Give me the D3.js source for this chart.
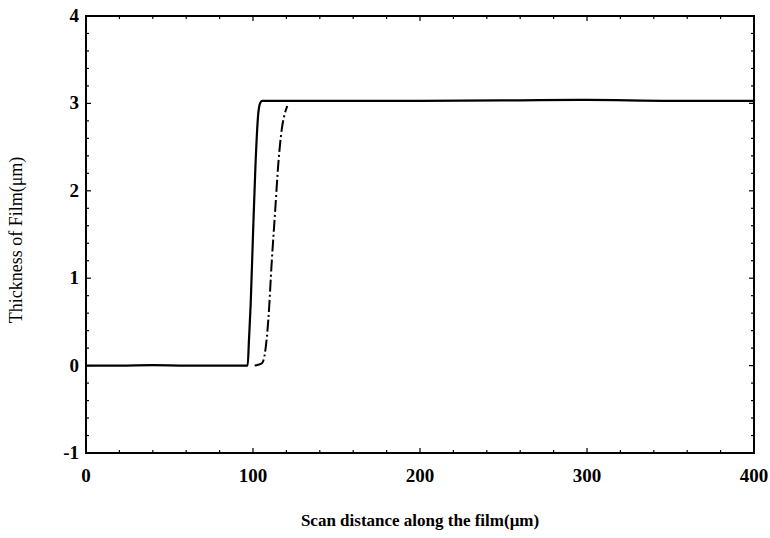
<!DOCTYPE html>
<html><head><meta charset="utf-8">
<script src="https://cdn.jsdelivr.net/npm/d3@7"></script>
<style>body{margin:0;background:#fff}</style>
</head><body>
<svg id="c" width="770" height="538"></svg>
<script>
// Data
const solidX = [0, 20, 40, 60, 80, 96.8, 97.6, 98.6, 100.0, 101.5, 103.0, 104.2, 105.5, 130, 200, 260, 300, 350, 400];
const solidY = [0, 0, 0.005, 0, 0, 0, 0.3, 0.7, 1.5, 2.3, 2.85, 3.0, 3.03, 3.03, 3.03, 3.035, 3.04, 3.03, 3.03];
const dashX = [101, 103, 105.5, 107.2, 109.2, 111.2, 113.2, 115.2, 117.2, 119.0, 120.5];
const dashY = [0, 0.01, 0.03, 0.15, 0.53, 1.18, 1.75, 2.32, 2.70, 2.88, 2.97];
const xTicks = [0, 100, 200, 300, 400];
const yTicks = [-1, 0, 1, 2, 3, 4];
const xLabel = "Scan distance along the film(μm)";
const yLabel = "Thickness of Film(μm)";

const svg = d3.select("#c");
const m = {l: 86, r: 754, t: 16, b: 453};
const x = d3.scaleLinear().domain([0, 400]).range([m.l, m.r]);
const y = d3.scaleLinear().domain([-1, 4]).range([m.b, m.t]);
const font = "'Liberation Serif', 'Times New Roman', serif";

// minor ticks (inward) on all four sides
const g = svg.append("g").attr("stroke", "#000").attr("stroke-width", 1.2);
d3.range(0, 401, 20).forEach(v => {
  g.append("line").attr("x1", x(v)).attr("x2", x(v)).attr("y1", m.b).attr("y2", m.b - (v % 100 === 0 ? 5 : 3));
  g.append("line").attr("x1", x(v)).attr("x2", x(v)).attr("y1", m.t).attr("y2", m.t + (v % 100 === 0 ? 5 : 3));
});
d3.range(-1, 4.001, 0.2).forEach(v => {
  const major = Math.abs(v - Math.round(v)) < 1e-6;
  g.append("line").attr("y1", y(v)).attr("y2", y(v)).attr("x1", m.l).attr("x2", m.l + (major ? 5 : 3));
  g.append("line").attr("y1", y(v)).attr("y2", y(v)).attr("x1", m.r).attr("x2", m.r - (major ? 5 : 3));
});

// frame
svg.append("rect").attr("x", m.l).attr("y", m.t).attr("width", m.r - m.l).attr("height", m.b - m.t)
  .attr("fill", "none").attr("stroke", "#000").attr("stroke-width", 2);

// tick labels
svg.selectAll(".xt").data(xTicks).enter().append("text")
  .attr("x", d => x(d)).attr("y", 482).attr("text-anchor", "middle")
  .attr("font-family", font).attr("font-weight", "bold").attr("font-size", 19).text(d => d);
svg.selectAll(".yt").data(yTicks).enter().append("text")
  .attr("x", 79).attr("y", d => y(d) + 6).attr("text-anchor", "end")
  .attr("font-family", font).attr("font-weight", "bold").attr("font-size", 19).text(d => d);

// axis titles
svg.append("text").attr("x", 420).attr("y", 526).attr("text-anchor", "middle")
  .attr("font-family", font).attr("font-weight", "bold").attr("font-size", 17).text(xLabel);
svg.append("text").attr("transform", "translate(22,240) rotate(-90)").attr("text-anchor", "middle")
  .attr("font-family", font).attr("font-size", 18).text(yLabel);

// lines
const line = d3.line().x(d => x(d[0])).y(d => y(d[1])).curve(d3.curveMonotoneX);
svg.append("path").datum(solidX.map((v, i) => [v, solidY[i]])).attr("d", line)
  .attr("fill", "none").attr("stroke", "#000").attr("stroke-width", 2.2);
svg.append("path").datum(dashX.map((v, i) => [v, dashY[i]])).attr("d", line)
  .attr("fill", "none").attr("stroke", "#000").attr("stroke-width", 2)
  .attr("stroke-dasharray", "12,3,2,3");
</script>
</body></html>
